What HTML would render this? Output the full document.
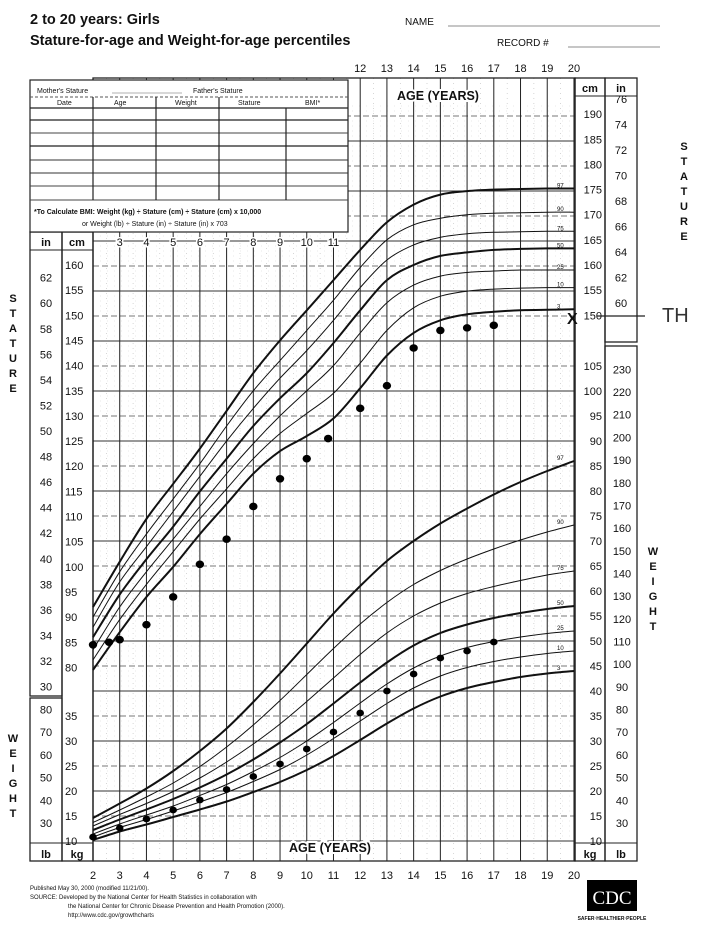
<!DOCTYPE html>
<html><head><meta charset="utf-8"><style>
html,body{margin:0;padding:0;background:#fff;}
body{width:703px;height:937px;overflow:hidden;position:relative;font-family:"Liberation Sans",sans-serif;}
svg{position:absolute;left:0;top:0;}
text{font-family:"Liberation Sans",sans-serif;fill:#111;}
</style></head><body>
<svg id="chart" width="703" height="937" viewBox="0 0 703 937" xmlns="http://www.w3.org/2000/svg">
<g id="static">
<text x="30" y="24" font-size="14.5" font-weight="bold">2 to 20 years: Girls</text>
<text x="30" y="45" font-size="14.5" font-weight="bold">Stature-for-age and Weight-for-age percentiles</text>
<text x="405" y="25" font-size="10">NAME</text>
<line x1="448" y1="26" x2="660" y2="26" stroke="#666" stroke-width="0.8"/>
<text x="497" y="46" font-size="10">RECORD #</text>
<line x1="568" y1="47" x2="660" y2="47" stroke="#666" stroke-width="0.8"/>
</g>
<g id="grid"></g>
<g id="table">
<rect x="30" y="80" width="318" height="152" fill="#fff" stroke="#222" stroke-width="1.2"/>
<line x1="30" y1="97" x2="348" y2="97" stroke="#555" stroke-dasharray="3,2"/>
<line x1="30" y1="108" x2="348" y2="108" stroke="#222" stroke-width="1.2"/>
<line x1="30" y1="120" x2="348" y2="120" stroke="#222" stroke-width="1.2"/>
<line x1="30" y1="133" x2="348" y2="133" stroke="#444"/>
<line x1="30" y1="146" x2="348" y2="146" stroke="#222" stroke-width="1.2"/>
<line x1="30" y1="160" x2="348" y2="160" stroke="#333"/>
<line x1="30" y1="173" x2="348" y2="173" stroke="#333"/>
<line x1="30" y1="186" x2="348" y2="186" stroke="#444"/>
<line x1="30" y1="200" x2="348" y2="200" stroke="#444"/>
<line x1="93" y1="97" x2="93" y2="200" stroke="#222" stroke-width="1.2"/>
<line x1="156" y1="97" x2="156" y2="200" stroke="#222" stroke-width="1.2"/>
<line x1="219" y1="97" x2="219" y2="200" stroke="#222" stroke-width="1.2"/>
<line x1="286" y1="108" x2="286" y2="200" stroke="#222" stroke-width="1.2"/>
<text x="37" y="93" font-size="7">Mother's Stature</text>
<line x1="112" y1="93" x2="182" y2="93" stroke="#666" stroke-width="0.6"/>
<text x="193" y="93" font-size="7">Father's Stature</text>
<text x="57" y="105" font-size="7">Date</text>
<text x="114" y="105" font-size="7">Age</text>
<text x="175" y="105" font-size="7">Weight</text>
<text x="238" y="105" font-size="7">Stature</text>
<text x="305" y="105" font-size="7">BMI*</text>
<text x="34" y="214" font-size="7" font-weight="bold">*To Calculate BMI: Weight (kg) ÷ Stature (cm) ÷ Stature (cm) x 10,000</text>
<text x="82" y="226" font-size="7">or Weight (lb) ÷ Stature (in) ÷ Stature (in) x 703</text>
</g>
<g id="curves"></g>
<g id="points"></g>
<g id="labels"></g>
<g>
<text x="30" y="890" font-size="6">Published May 30, 2000 (modified 11/21/00).</text>
<text x="30" y="899" font-size="6">SOURCE: Developed by the National Center for Health Statistics in collaboration with</text>
<text x="68" y="908" font-size="6">the National Center for Chronic Disease Prevention and Health Promotion (2000).</text>
<text x="68" y="917" font-size="6">http://www.cdc.gov/growthcharts</text>
<rect x="587" y="880" width="50" height="31" fill="#000"/>
<text x="612" y="904" font-size="19" text-anchor="middle" style="fill:#fff;font-family:'Liberation Serif',serif">CDC</text>
<text x="612" y="920" font-size="5" text-anchor="middle" font-weight="bold">SAFER·HEALTHIER·PEOPLE</text>
</g>
<g>
<text x="567" y="324" font-size="16" font-weight="bold">X</text>
<line x1="597" y1="316" x2="645" y2="316" stroke="#222" stroke-width="1.2"/>
<text x="662" y="322" font-size="20" style="fill:#333">TH</text>
</g>
</svg>
<script>
// ===== chart data =====
const ages = [2,3,4,5,6,7,8,9,10,11,12,13,14,15,16,17,18,19,20];
const statureP3  = [79.5,87,94,100,106.5,112.5,118.5,123,126,129.5,135.5,142,146.5,149,150.2,150.7,151,151.1,151.2];
const statureP10 = [81.5,89.5,96.5,103,109.5,115.5,121.5,126.5,130.5,134.5,140.5,147,151.5,153.8,154.8,155.2,155.4,155.5,155.5];
const statureP25 = [83.5,92,99,105.5,112,118.5,124.5,130,135,140,146.5,152.5,156,157.8,158.5,158.8,159,159,159];
const statureP50 = [86,94.5,101.5,108,115,121.5,128,133.5,138.5,144.5,151,157,160,161.8,162.5,163,163.2,163.3,163.3];
const statureP75 = [88,97,104,111,118,125,131.5,137.5,143,149,155.5,161,164,165.5,166.2,166.5,166.6,166.7,166.7];
const statureP90 = [90,99,106.5,113.5,120.5,128,135,141,147,153,159.5,165,168,169.3,170,170.3,170.4,170.5,170.5];
const statureP97 = [92,101,109.5,116.5,123.5,131,138.5,145,151,157,163,168.5,172,174,174.7,175,175.1,175.2,175.2];
const weightP3  = [10.2,11.9,13.3,14.8,16.3,17.9,19.8,21.8,24.2,27,30.2,33.5,36.5,38.9,40.6,41.8,42.8,43.5,44];
const weightP10 = [10.8,12.7,14.3,16,17.8,19.7,21.9,24.3,27.2,30.5,34,37.5,40.6,43,44.7,45.9,46.8,47.5,48];
const weightP25 = [11.4,13.4,15.2,17,19.1,21.3,23.9,26.7,30,33.7,37.6,41.4,44.6,47,48.7,49.9,50.8,51.5,52];
const weightP50 = [12.2,14.3,16.3,18.4,20.7,23.3,26.3,29.7,33.4,37.5,41.7,45.7,49.1,51.6,53.3,54.6,55.6,56.4,57];
const weightP75 = [13,15.3,17.5,19.9,22.6,25.8,29.4,33.4,37.9,42.6,47.3,51.6,55,57.6,59.5,60.9,62.1,63.2,64];
const weightP90 = [13.7,16.2,18.8,21.6,24.9,28.8,33.2,38.1,43.3,48.5,53.4,57.7,61.3,64.1,66.4,68.4,70.2,71.8,73.2];
const weightP97 = [14.6,17.5,20.5,24,28,32.5,37.8,43.5,49.5,55.5,61,66,70,73.5,76.5,79.3,81.8,84,86];
const percentileNames = ["3","10","25","50","75","90","97"];
const patientStatureAges = [2,2.6,3,4,5,6,7,8,9,10,10.8,12,13,14,15,16,17];
const patientStature = [84.5,85,85.5,88.5,94,100.5,105.5,112,117.5,121.5,125.5,131.5,136,143.5,147,147.5,148];
const patientWeightAges = [2,3,4,5,6,7,8,9,10,11,12,13,14,15,16,17];
const patientWeight = [10.8,12.6,14.4,16.2,18.2,20.3,22.9,25.4,28.4,31.8,35.6,40,43.4,46.6,48,49.8];
const ageTicks = [2,3,4,5,6,7,8,9,10,11,12,13,14,15,16,17,18,19,20];
const cmTicksRight = [150,155,160,165,170,175,180,185,190];
const cmTicksLeft = [80,85,90,95,100,105,110,115,120,125,130,135,140,145,150,155,160];
const inTicksRight = [60,62,64,66,68,70,72,74,76];
const inTicksLeft = [30,32,34,36,38,40,42,44,46,48,50,52,54,56,58,60,62];
const kgTicksRight = [10,15,20,25,30,35,40,45,50,55,60,65,70,75,80,85,90,95,100,105];
const kgTicksLeft = [10,15,20,25,30,35];
const lbTicksRight = [30,40,50,60,70,80,90,100,110,120,130,140,150,160,170,180,190,200,210,220,230];
const lbTicksLeft = [30,40,50,60,70,80];

// ===== axes =====
const X0 = 93, YR = 26.72;
function xAge(a){ return X0 + (a-2)*YR; }
function yCm(c){ return 265 - (c-160)*5.03; }
function yKg(k){ return 841 - (k-10)*5; }
const NS = "http://www.w3.org/2000/svg";
function mk(tag, attrs, parent){
  const e = document.createElementNS(NS, tag);
  for (const k in attrs) e.setAttribute(k, attrs[k]);
  parent.appendChild(e);
  return e;
}
const grid = document.getElementById('grid');
const curves = document.getElementById('curves');
const points = document.getElementById('points');
const labels = document.getElementById('labels');

for (let k = 11; k < 158; k++) {
  if (k % 5 === 0) continue;
  const y = yKg(k);
  if (y < 80) continue;
  const l = mk('line', {x1:X0, x2:575, y1:y, y2:y, stroke:'#d4d4d4', 'stroke-width':0.5, 'stroke-dasharray':'1,6'}, grid);
  
  
}
for (let k = 10; k <= 155; k += 5) {
  const y = yKg(k);
  if (y < 78) continue;
  const dash = (k % 10 === 0) ? 'none' : '6,3';
  const l = mk('line', {x1:X0, x2:575, y1:y, y2:y, stroke: (k % 10 === 0) ? '#333' : '#777', 'stroke-width':0.9, 'stroke-dasharray':dash}, grid);
  
  
}
for (let a = 2; a <= 20; a += 0.5) {
  const x = xAge(a);
  const whole = Number.isInteger(a);
  const l = mk('line', {x1:x, x2:x, y1:78, y2:861, stroke: whole ? '#222' : '#bbb', 'stroke-width': whole ? 1 : 0.6, 'stroke-dasharray': whole ? 'none' : '1,4'}, grid);
  
  
}
const frames = [
  [X0,78,575-X0,783,1.3],
  [575,78,30,783,1.3],
  [605,78,32,264,1.3],
  [605,346,32,515,1.3],
  [30,232,32,464,1.3],
  [62,232,31,629,1.3],
  [30,698,32,163,1.3]
];
for (const f of frames) {
  const r = mk('rect', {x:f[0], y:f[1], width:f[2], height:f[3], fill:'none', stroke:'#222', 'stroke-width':f[4]}, grid);
  
  
}
const hl = [[575,96,605,96],[605,96,637,96],[30,250,93,250],[30,843,93,843],[575,843,637,843]];
for (const h of hl) {
  const l = mk('line', {x1:h[0], y1:h[1], x2:h[2], y2:h[3], stroke:'#222', 'stroke-width':1}, grid);
  
  
}

function pathFrom(xs, ys, yfn){
  let d = '';
  for (let i = 0; i < xs.length; i++) {
    const x = xAge(xs[i]), y = yfn(ys[i]);
    if (i === 0) { d += 'M' + x.toFixed(1) + ' ' + y.toFixed(1); continue; }
    const x0 = xAge(xs[i-1]), y0 = yfn(ys[i-1]);
    const xp = i > 1 ? xAge(xs[i-2]) : x0, yp = i > 1 ? yfn(ys[i-2]) : y0;
    const xn = i < xs.length-1 ? xAge(xs[i+1]) : x, yn = i < xs.length-1 ? yfn(ys[i+1]) : y;
    const c1x = x0 + (x - xp)/6, c1y = y0 + (y - yp)/6;
    const c2x = x - (xn - x0)/6, c2y = y - (yn - y0)/6;
    d += ' C' + c1x.toFixed(1) + ' ' + c1y.toFixed(1) + ' ' + c2x.toFixed(1) + ' ' + c2y.toFixed(1) + ' ' + x.toFixed(1) + ' ' + y.toFixed(1);
  }
  return d;
}
const statureSeries = [statureP3, statureP10, statureP25, statureP50, statureP75, statureP90, statureP97];
const weightSeries = [weightP3, weightP10, weightP25, weightP50, weightP75, weightP90, weightP97];
const widths = [2, 1, 1, 2, 1, 1, 2];
statureSeries.forEach((s, i) => {
  const p = mk('path', {d: pathFrom(ages, s, yCm), fill:'none', stroke:'#111', 'stroke-width': widths[i]}, curves);
  
  
  const t = mk('text', {x: 557, y: yCm(s[s.length-1]) - 1, 'font-size': 6}, curves);
  t.textContent = percentileNames[i];
  
  
});
weightSeries.forEach((s, i) => {
  const p = mk('path', {d: pathFrom(ages, s, yKg), fill:'none', stroke:'#111', 'stroke-width': widths[i]}, curves);
  
  
  const t = mk('text', {x: 557, y: yKg(s[s.length-1]) - 1, 'font-size': 6}, curves);
  t.textContent = percentileNames[i];
  
  
});

patientStatureAges.forEach((a, i) => {
  const c = mk('ellipse', {cx: xAge(a), cy: yCm(patientStature[i]), rx: 4.2, ry: 3.8, fill:'#000'}, points);
  
  
});
patientWeightAges.forEach((a, i) => {
  const c = mk('ellipse', {cx: xAge(a), cy: yKg(patientWeight[i]), rx: 3.8, ry: 3.4, fill:'#000'}, points);
  
  
});

function txt(x, y, s, size, anchor, name, weight){
  const t = mk('text', {x:x, y:y, 'font-size':size, 'text-anchor':anchor || 'start', 'font-weight': weight || 'normal'}, labels);
  t.textContent = s;
  
  
  return t;
}
ageTicks.forEach(a => { txt(xAge(a), 879, String(a), 11, 'middle', 'x-tick-bottom'); });
ageTicks.filter(a => a >= 12).forEach(a => { txt(xAge(a), 72, String(a), 11, 'middle', 'x-tick-top'); });
ageTicks.filter(a => a >= 3 && a <= 11).forEach(a => {
  const t = txt(xAge(a), 246, String(a), 11, 'middle', 'x-tick-inner');
  t.setAttribute('style', 'paint-order:stroke;stroke:#fff;stroke-width:3px');
});
cmTicksRight.forEach(c => { txt(602, yCm(c) + 4, String(c), 11, 'end', 'stature-cm-tick-right'); });
cmTicksLeft.forEach(c => { txt(65, yCm(c) + 4, String(c), 11, 'start', 'stature-cm-tick-left'); });
inTicksRight.forEach(v => { txt(621, yCm(v*2.54) + 4, String(v), 11, 'middle', 'stature-in-tick-right'); });
inTicksLeft.forEach(v => { const y = yCm(v*2.54); if (y > 256 && y < 693) txt(46, y + 4, String(v), 11, 'middle', 'stature-in-tick-left'); });
kgTicksRight.forEach(k => { txt(602, yKg(k) + 4, String(k), 11, 'end', 'weight-kg-tick-right'); });
kgTicksLeft.forEach(k => { txt(65, yKg(k) + 4, String(k), 11, 'start', 'weight-kg-tick-left'); });
lbTicksRight.forEach(v => { const y = yKg(v*0.4536); if (y < 840) txt(622, y + 4, String(v), 11, 'middle', 'weight-lb-tick-right'); });
lbTicksLeft.forEach(v => { txt(46, yKg(v*0.4536) + 4, String(v), 11, 'middle', 'weight-lb-tick-left'); });
txt(590, 92, 'cm', 11, 'middle', 'cm-unit-top', 'bold');
txt(621, 92, 'in', 11, 'middle', 'in-unit-top', 'bold');
txt(46, 246, 'in', 11, 'middle', 'in-unit-left', 'bold');
txt(77, 246, 'cm', 11, 'middle', 'cm-unit-left', 'bold');
txt(46, 858, 'lb', 11, 'middle', 'lb-unit-left', 'bold');
txt(77, 858, 'kg', 11, 'middle', 'kg-unit-left', 'bold');
txt(590, 858, 'kg', 11, 'middle', 'kg-unit-right', 'bold');
txt(621, 858, 'lb', 11, 'middle', 'lb-unit-right', 'bold');
const a1 = txt(438, 100, 'AGE (YEARS)', 12.5, 'middle', 'x-axis-title-top', 'bold');
a1.setAttribute('style', 'paint-order:stroke;stroke:#fff;stroke-width:4px');
const a2 = txt(330, 852, 'AGE (YEARS)', 12.5, 'middle', 'x-axis-title-bottom', 'bold');
a2.setAttribute('style', 'paint-order:stroke;stroke:#fff;stroke-width:4px');
function vword(x, y0, word, name){
  for (let i = 0; i < word.length; i++) txt(x, y0 + i*15, word[i], 11, 'middle', name, 'bold');
}
vword(13, 302, 'STATURE', 'y-axis-title-stature-left');
vword(684, 150, 'STATURE', 'y-axis-title-stature-right');
vword(13, 742, 'WEIGHT', 'y-axis-title-weight-left');
vword(653, 555, 'WEIGHT', 'y-axis-title-weight-right');
</script>
</body></html>
